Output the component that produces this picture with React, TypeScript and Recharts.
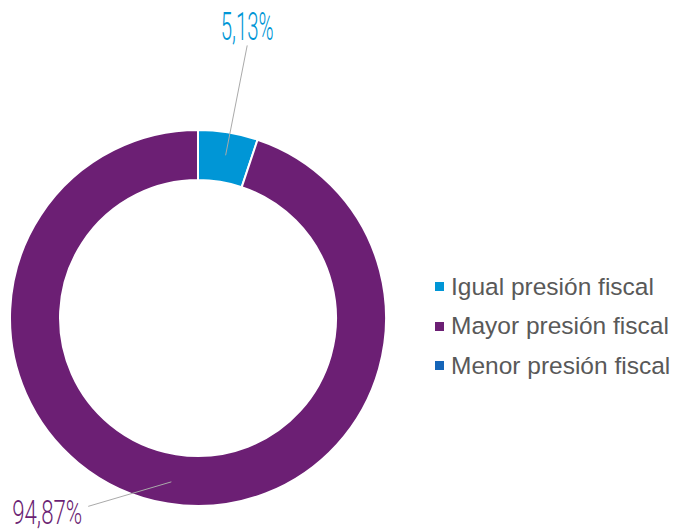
import { PieChart, Pie, Cell } from "recharts";

const categories = ["Igual presión fiscal", "Mayor presión fiscal", "Menor presión fiscal"];
const shares = [5.13, 94.87, 0];
const labels = ["5,13%", "94,87%", ""];

const COLORS = ["#0096D6", "#6C1F74", "#1565B8"];

const data = categories.map((name, i) => ({ name, value: shares[i] }));

const RAD = Math.PI / 180;

// leader line tweaks: angle shifts from the slice middle, radii, label offsets
const LEADERS = [
  { s1: -0.4, s2: -1, r1: 165, r2: 277, dx: 0, dy: -5, size: 38, width: 53, anchor: "middle" },
  { s1: 0, s2: -21, r1: 166, r2: 218, dx: -6, dy: 18, size: 34, width: 70, anchor: "end" },
];

function renderLabel(props: any) {
  const { cx, cy, midAngle, index } = props;
  const cfg = LEADERS[index];
  if (!cfg || !labels[index]) return null;
  const a = (midAngle + cfg.s1) * RAD;
  const a2 = (midAngle + cfg.s2) * RAD;
  const x1 = cx + cfg.r1 * Math.cos(a);
  const y1 = cy - cfg.r1 * Math.sin(a);
  const x2 = cx + cfg.r2 * Math.cos(a2);
  const y2 = cy - cfg.r2 * Math.sin(a2);
  return (
    <g>
      <line x1={x1} y1={y1} x2={x2} y2={y2} stroke="#aaaaaa" strokeWidth={1} />
      <text
        x={x2 + cfg.dx}
        y={y2 + cfg.dy}
        fill={COLORS[index]}
        fontFamily="Roboto"
        fontWeight={300}
        fontSize={cfg.size}
        textAnchor={cfg.anchor as any}
        textLength={cfg.width}
        lengthAdjust="spacingAndGlyphs"
      >
        {labels[index]}
      </text>
    </g>
  );
}

function LegendBox() {
  return (
    <div
      style={{
        position: "absolute",
        left: 427,
        top: 259,
        fontFamily: "Liberation Sans, Arial",
        fontSize: 24.5,
        color: "#595959",
      }}
    >
      {categories.map((c, i) => (
        <div key={c} style={{ display: "flex", alignItems: "center", height: 39.5, whiteSpace: "nowrap" }}>
          <span
            style={{ width: 9, height: 9, background: COLORS[i], display: "inline-block", marginRight: 7 }}
          />
          <span>{c}</span>
        </div>
      ))}
    </div>
  );
}

export default function App() {
  return (
    <div style={{ position: "relative", width: 671, height: 521 }}>
      <PieChart
        width={671}
        height={521}
        margin={{ top: 0, right: 0, bottom: 0, left: 0 }}
        style={{ overflow: "visible" }}
      >
        <Pie
          data={data}
          dataKey="value"
          cx={190}
          cy={310}
          innerRadius={138}
          outerRadius={188}
          startAngle={90}
          endAngle={-270}
          stroke="#ffffff"
          strokeWidth={2}
          label={renderLabel}
          labelLine={false}
          isAnimationActive={false}
        >
          {data.map((_, i) => (
            <Cell key={i} fill={COLORS[i]} />
          ))}
        </Pie>
      </PieChart>
      <LegendBox />
    </div>
  );
}
